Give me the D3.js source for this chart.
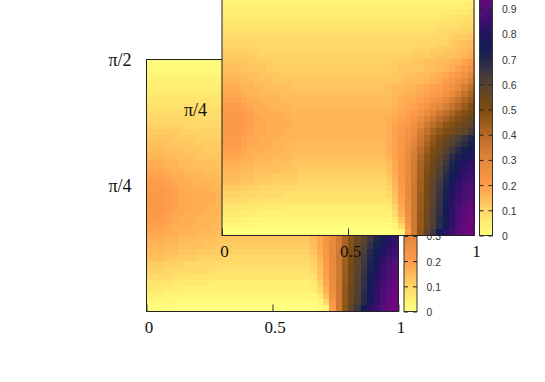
<!DOCTYPE html>
<html>
<head>
<meta charset="utf-8">
<script src="https://cdn.jsdelivr.net/npm/d3@7"></script>
<style>
  body {margin: 0; background: #fff;}
  svg {display: block;}
</style>
</head>
<body>
<div id="chart"></div>
<script type="text/javascript">

      // values in percent, top row first (y = pi/2) to bottom row (y = 0), left to right x = 0..1
      var field = [
        [1,1,1,1,1,1,1,1,1,1,  1,1,1,1,1,1,1,1,1,1,  1,1,1,1,1,1,1,1,1,1,  1,1,1,1,1,1,1,1,1,1],
        [2,2,2,2,2,2,2,2,2,2,  2,2,2,2,2,2,2,2,2,2,  2,2,2,2,2,2,2,2,2,2,  2,2,2,2,2,2,2,2,2,2],
        [3,3,3,3,3,3,3,3,3,3,  3,3,3,3,3,3,3,3,3,3,  3,3,3,3,3,3,3,3,3,3,  3,3,3,3,3,3,3,3,3,3],
        [4,4,4,4,4,4,4,4,4,4,  4,4,4,4,4,4,4,4,4,4,  4,4,4,4,4,4,4,4,4,4,  4,4,4,4,4,4,4,4,5,5],
        [5,5,5,5,5,5,5,5,5,5,  5,5,5,5,5,5,5,5,5,5,  5,5,5,5,5,5,5,5,5,5,  5,5,5,5,5,5,6,6,6,7],
        [6,6,6,6,6,6,6,6,6,6,  6,6,6,6,6,6,6,6,6,6,  6,6,6,6,6,6,6,6,6,6,  6,6,6,6,6,7,7,7,8,8],
        [7,7,7,7,7,7,7,7,7,7,  7,7,7,7,7,7,7,7,7,7,  7,7,7,7,7,7,7,7,7,7,  7,7,7,7,8,8,8,9,9,10],
        [8,8,8,8,8,8,8,8,8,8,  8,8,8,8,8,8,8,8,8,8,  8,8,8,8,8,8,8,8,8,8,  8,8,8,8,9,9,10,10,11,11],
        [9,9,9,9,9,9,9,9,9,9,  9,9,9,9,9,9,9,9,9,9,  9,9,9,9,9,9,9,9,9,9,  9,9,9,10,10,10,11,12,12,13],
        [10,10,10,10,10,10,10,9,9,9,  9,9,9,9,9,9,9,9,9,9,  9,9,9,9,9,9,9,9,9,10,  10,10,10,10,11,11,12,13,14,15],
        [11,11,11,11,11,11,10,10,10,10,  10,10,10,10,10,10,10,10,10,10,  10,10,10,10,10,10,10,10,10,10,  11,11,11,12,12,13,13,14,15,16],
        [12,12,12,12,12,11,11,11,11,11,  11,11,11,11,11,11,11,11,11,11,  11,11,11,11,11,11,11,11,11,11,  12,12,12,13,13,14,14,15,16,18],
        [13,13,13,13,12,12,12,12,11,11,  11,11,11,11,11,11,11,11,11,11,  11,11,11,11,11,11,11,12,12,12,  13,13,14,14,15,15,16,17,19,21],
        [14,14,14,13,13,13,13,12,12,12,  12,12,12,12,12,12,12,12,12,12,  12,12,12,12,12,12,12,12,13,13,  13,13,14,14,15,16,17,19,21,25],
        [15,15,15,14,14,14,13,13,13,12,  12,12,12,12,12,12,12,12,12,12,  12,12,12,12,12,12,12,13,13,14,  14,15,15,16,17,18,20,22,25,29],
        [16,16,16,15,15,14,14,14,13,13,  13,13,13,13,13,13,13,13,13,13,  13,13,13,13,13,13,13,13,14,15,  15,15,16,17,18,20,22,25,28,33],
        [17,17,17,16,16,15,15,14,14,14,  14,13,13,13,13,13,13,13,13,13,  13,13,13,13,13,13,14,15,15,16,  16,17,18,19,20,22,25,28,33,38],
        [18,18,18,17,16,16,15,15,15,14,  14,14,14,14,14,14,14,14,14,14,  14,14,14,14,14,14,14,15,16,17,  17,18,19,20,22,25,28,32,37,42],
        [19,19,19,18,17,17,16,16,16,15,  15,15,15,15,15,15,15,15,15,15,  15,15,15,15,15,15,15,16,17,18,  18,19,21,23,25,29,33,37,41,45],
        [20,20,20,19,18,17,17,16,16,16,  16,15,15,15,15,15,15,15,15,15,  15,15,15,15,15,15,15,16,17,18,  19,21,24,27,30,33,37,41,45,49],
        [21,21,21,20,19,18,17,17,17,17,  16,16,16,16,16,16,16,16,16,16,  16,16,16,16,16,16,16,17,18,19,  21,24,27,31,35,38,42,46,49,52],
        [21,21,21,20,19,18,18,17,17,17,  17,16,16,16,16,16,16,16,16,16,  16,16,16,16,16,16,17,18,19,21,  23,27,31,35,39,43,46,49,52,56],
        [22,22,21,20,19,18,18,17,17,17,  17,16,16,16,16,16,16,16,16,16,  16,16,16,16,16,16,17,19,20,22,  25,30,35,39,43,47,49,52,55,59],
        [21,21,21,20,19,18,18,17,17,17,  16,16,16,16,16,16,16,16,16,16,  16,16,16,16,16,16,17,19,21,24,  27,33,38,43,47,50,52,55,58,63],
        [21,21,20,19,18,18,17,17,17,16,  16,16,16,16,16,16,16,16,16,16,  16,16,16,16,16,16,17,19,22,25,  29,35,41,46,50,54,58,62,66,70],
        [20,20,20,19,18,17,17,17,16,16,  16,15,15,15,15,15,15,15,15,15,  15,15,15,15,15,15,17,19,22,26,  31,37,43,48,53,57,61,65,69,73],
        [19,19,19,18,17,17,17,16,16,16,  15,15,15,15,15,15,15,15,15,15,  15,15,15,15,15,15,17,19,22,27,  32,39,45,50,55,60,65,69,73,76],
        [18,18,18,17,17,16,16,16,15,15,  15,14,14,14,14,14,14,14,14,14,  14,14,14,14,14,14,16,19,23,28,  33,41,47,52,57,63,69,73,77,80],
        [17,17,17,16,16,15,15,15,14,14,  14,13,13,13,13,13,13,13,13,13,  13,13,13,13,13,13,15,18,23,28,  34,42,48,54,59,65,71,76,80,83],
        [16,16,16,15,15,14,14,14,14,13,  13,13,12,12,12,12,12,12,12,12,  12,12,12,12,12,12,14,18,23,28,  34,43,49,55,61,67,73,78,82,85],
        [15,15,15,14,14,13,13,13,12,12,  12,12,11,11,11,11,11,11,11,11,  11,11,11,11,11,11,13,17,22,28,  34,43,50,56,62,69,75,80,84,87],
        [14,14,14,13,13,12,12,12,11,11,  11,11,10,10,10,10,10,10,10,10,  10,10,10,10,10,10,12,16,22,28,  35,44,51,58,64,70,77,82,86,88],
        [12,12,12,12,11,11,10,10,10,10,  10,9,9,9,9,9,9,9,9,9,  9,9,9,9,9,9,11,15,21,28,  35,44,52,58,65,72,79,84,87,90],
        [11,11,11,10,10,9,9,9,9,9,  8,8,8,8,8,8,8,8,8,8,  8,8,8,8,8,8,10,14,20,28,  35,45,52,59,66,73,80,85,88,91],
        [9,9,9,9,8,8,8,7,7,7,  7,7,7,7,7,7,7,7,7,7,  7,7,7,7,7,7,8,13,19,27,  35,45,53,60,67,74,81,86,89,92],
        [7,7,7,7,6,6,6,6,6,6,  5,5,5,5,5,5,5,5,5,5,  5,5,5,5,5,5,6,11,18,27,  35,45,53,60,67,75,82,87,91,94],
        [6,6,6,5,5,5,4,4,4,4,  4,4,4,4,4,4,4,4,4,4,  4,4,4,4,4,4,5,9,17,26,  35,46,54,61,68,76,83,88,92,95],
        [4,4,4,3,3,3,3,3,3,3,  3,3,3,3,3,3,3,3,3,3,  3,3,3,3,3,3,3,6,14,25,  35,46,54,61,69,76,83,88,93,96],
        [2,2,2,2,2,1,1,1,1,1,  1,1,1,1,1,1,1,1,1,1,  1,1,1,1,1,1,1,3,10,23,  35,46,55,62,69,77,84,89,94,97],
        [0,0,0,0,0,0,0,0,0,0,  0,0,0,0,0,0,0,0,0,0,  0,0,0,0,0,0,0,1,3,20,  35,47,58,65,75,82,85,90,95,97]
      ];

      var xTicks = [0, 0.5, 1];
      var xLabels = ["0", "0.5", "1"];
      var yTicks = [Math.PI / 4, Math.PI / 2];
      var yLabels = ["π/4", "π/2"];
      var barTicks = [0, 0.1, 0.2, 0.3, 0.4, 0.5, 0.6, 0.7, 0.8, 0.9, 1];

      var paletteStops = [0, 0.05, 0.1, 0.2, 0.3, 0.4, 0.5, 0.6, 0.65, 0.7, 0.75, 0.8, 0.85, 0.9, 1];
      var paletteColors = ["#ffff80", "#ffee72", "#ffd868", "#ff9c4a", "#e3873a", "#b86a28", "#7e4c10", "#57422f",
                           "#3f3740", "#22284a", "#141c55", "#20145f", "#3a0f6e", "#520f78", "#800080"];

      var size = 252; //plot square
      var barW = 13;
      var barGap = 5.5; //plot to colour box

      var color = d3.scaleLinear().domain(paletteStops).range(paletteColors);

      var svg = d3.select("#chart")
                  .append("svg")
                  .attr("width", 545)
                  .attr("height", 382);

      var serif = "'Liberation Serif', 'Times New Roman', serif";
      var sans = "'Liberation Sans', Helvetica, Arial, sans-serif";

      function drawPanel(left, top) {
        var g = svg.append("g").attr("transform", "translate(" + left + "," + top + ")");

        var x = d3.scaleLinear().domain([0, 1]).range([0, size]);
        var y = d3.scaleLinear().domain([0, Math.PI / 2]).range([size, 0]);
        var col = d3.scaleBand().domain(d3.range(field[0].length)).range([0, size]);
        var row = d3.scaleBand().domain(d3.range(field.length)).range([0, size]);

        field.forEach(function(values, r) {
          g.selectAll("rect.r" + r)
           .data(values)
           .enter()
           .append("rect")
           .attr("class", "r" + r)
           .attr("x", function(d, c) { return col(c); })
           .attr("y", row(r))
           .attr("width", col.bandwidth() + 0.5)
           .attr("height", row.bandwidth() + 0.5)
           .attr("shape-rendering", "crispEdges")
           .style("fill", function(d) { return color(d / 100); });
        });

        g.append("rect")
         .attr("width", size)
         .attr("height", size)
         .attr("fill", "none")
         .attr("stroke", "#222");

        var xAxis = g.append("g")
         .attr("transform", "translate(0," + size + ")")
         .call(d3.axisBottom(x).tickValues(xTicks).tickSize(-7).tickPadding(9)
                 .tickFormat(function(d, i) { return xLabels[i]; }));
        xAxis.select(".domain").remove();
        xAxis.selectAll("line").attr("stroke", "#333");
        xAxis.selectAll("text")
             .attr("x", 2)
             .attr("fill", "#111")
             .style("font-family", serif)
             .style("font-size", "17px");

        // labels that would sit above the page are not drawn
        var yAxis = g.append("g")
         .call(d3.axisLeft(y).tickValues(yTicks.filter(function(d) { return top + y(d) > 0; }))
                 .tickSize(0).tickPadding(15)
                 .tickFormat(function(d) { return yLabels[yTicks.indexOf(d)]; }));
        yAxis.select(".domain").remove();
        yAxis.selectAll("text")
             .attr("fill", "#111")
             .style("font-family", serif)
             .style("font-size", "18px");

        // colour box
        var bar = g.append("g").attr("transform", "translate(" + (size + barGap) + ",0)");
        var z = d3.scaleLinear().domain([0, 1]).range([size, 0]);
        var shownTicks = barTicks.filter(function(d) { return top + z(d) > 0; });
        bar.selectAll("rect")
           .data(d3.range(0, 100))
           .enter()
           .append("rect")
           .attr("y", function(d) { return z((d + 1) / 100); })
           .attr("width", barW)
           .attr("height", size / 100 + 0.5)
           .attr("shape-rendering", "crispEdges")
           .style("fill", function(d) { return color((d + 0.5) / 100); });
        bar.append("rect")
           .attr("width", barW)
           .attr("height", size)
           .attr("fill", "none")
           .attr("stroke", "#333");

        var barLeft = bar.append("g")
           .call(d3.axisLeft(z).tickValues(shownTicks).tickSize(-4).tickFormat(""));
        barLeft.select(".domain").remove();
        barLeft.selectAll("line").attr("stroke", "#222");

        var barRight = bar.append("g")
           .attr("transform", "translate(" + barW + ",0)")
           .call(d3.axisRight(z).tickValues(shownTicks).tickSize(-4).tickPadding(9.5)
                   .tickFormat(d3.format("~g")));
        barRight.select(".domain").remove();
        barRight.selectAll("line").attr("stroke", "#222");
        barRight.selectAll("text")
           .attr("fill", "#333")
           .attr("dy", "0.38em")
           .style("font-family", sans)
           .style("font-size", "10.4px");
      }

      drawPanel(146.5, 59.5);
      drawPanel(222, -16.5);

</script>
</body>
</html>
